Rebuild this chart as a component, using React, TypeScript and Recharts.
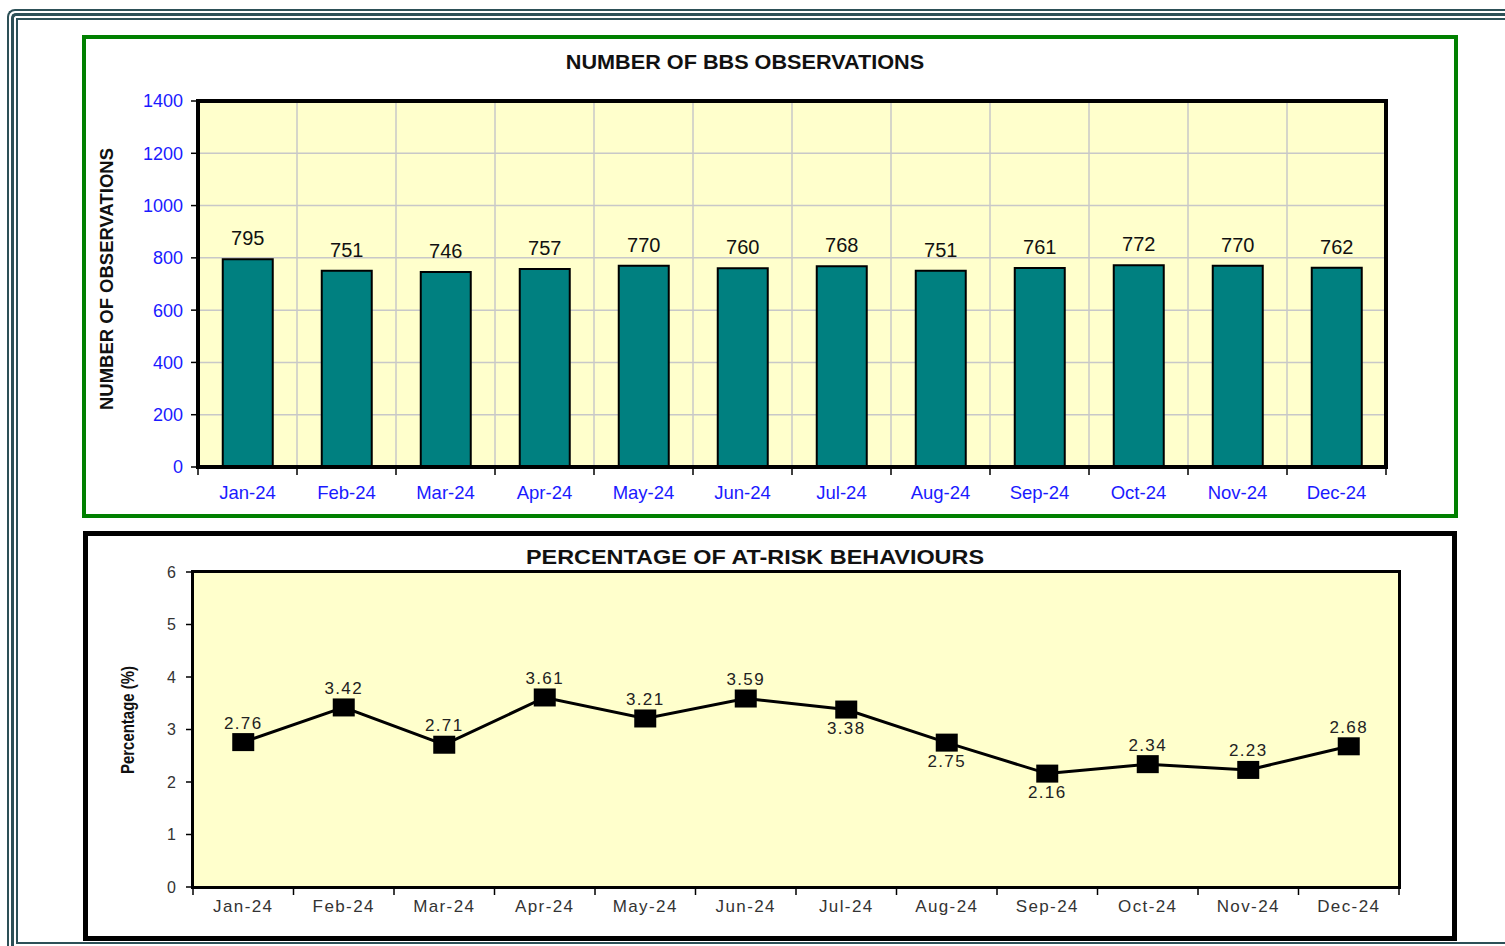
import React from "react";
import {
  BarChart,
  Bar,
  LineChart,
  Line,
  XAxis,
  YAxis,
  CartesianGrid,
  LabelList,
} from "recharts";

const months = [
  "Jan-24", "Feb-24", "Mar-24", "Apr-24", "May-24", "Jun-24",
  "Jul-24", "Aug-24", "Sep-24", "Oct-24", "Nov-24", "Dec-24",
];
const observations = [795, 751, 746, 757, 770, 760, 768, 751, 761, 772, 770, 762];
const atRiskPct = [2.76, 3.42, 2.71, 3.61, 3.21, 3.59, 3.38, 2.75, 2.16, 2.34, 2.23, 2.68];
const obsTicks = [0, 200, 400, 600, 800, 1000, 1200, 1400];
const pctTicks = [0, 1, 2, 3, 4, 5, 6];
// months whose value label sits under the marker
const labelsBelow = ["Jul-24", "Aug-24", "Sep-24"];

const FONT = "Arial, 'Liberation Sans', Helvetica, sans-serif";
const BLUE = "#1a1aff";
const PAPER = "#FFFFCC";

const obsData = months.map((m, i) => ({ month: m, value: observations[i] }));
const pctData = months.map((m, i) => ({ month: m, value: atRiskPct[i] }));

// top chart geometry (inside the green box)
const T = { w: 1368, h: 475, left: 112, top: 62, plotW: 1188, plotH: 366, yw: 60, xh: 30 };
// bottom chart geometry (inside the black box)
const B = { w: 1364, h: 400, left: 105, top: 36, plotW: 1206, plotH: 315, yw: 50, xh: 30 };

function MonthTick(props: any) {
  const { x, y, payload, index, band, color, fontSize, dy, spacing, count } = props;
  const half = band / 2;
  return (
    <g>
      <line x1={x - half} y1={y} x2={x - half} y2={y + 6} stroke="#000" strokeWidth={1.5} />
      {index === count - 1 && (
        <line x1={x + half} y1={y} x2={x + half} y2={y + 6} stroke="#000" strokeWidth={1.5} />
      )}
      <text
        x={x}
        y={y + dy}
        textAnchor="middle"
        dominantBaseline="central"
        fill={color}
        fontSize={fontSize}
        fontFamily={FONT}
        letterSpacing={spacing}
      >
        {payload.value}
      </text>
    </g>
  );
}

function ObservationsChart() {
  const band = T.plotW / months.length;
  return (
    <div style={{ position: "relative", width: T.w, height: T.h }}>
      <BarChart
        width={T.w}
        height={T.h}
        data={obsData}
        margin={{
          top: T.top,
          left: T.left - T.yw,
          right: T.w - T.left - T.plotW,
          bottom: T.h - T.top - T.plotH - T.xh,
        }}
        barCategoryGap="25%"
      >
        <CartesianGrid
          fill={PAPER}
          fillOpacity={1}
          stroke="#c8c8c8"
          strokeWidth={1.5}
          verticalCoordinatesGenerator={({ offset }: any) =>
            months.map((_, i) => offset.left + i * (offset.width / months.length))
          }
        />
        <XAxis
          dataKey="month"
          height={T.xh}
          axisLine={false}
          tickLine={false}
          tickSize={0}
          interval={0}
          tick={(p: any) => (
            <MonthTick {...p} band={band} color={BLUE} fontSize={18.5} dy={23} spacing={0} count={months.length} />
          )}
        />
        <YAxis
          width={T.yw}
          domain={[0, 1400]}
          ticks={obsTicks}
          interval={0}
          axisLine={false}
          tickSize={7}
          tickMargin={8}
          tickLine={{ stroke: "#000", strokeWidth: 1.5 }}
          tick={{ fill: BLUE, fontSize: 18, fontFamily: FONT }}
        />
        <Bar dataKey="value" fill="#008080" stroke="#000" strokeWidth={2} isAnimationActive={false}>
          <LabelList
            dataKey="value"
            position="top"
            offset={14}
            fill="#111"
            fontSize={20}
            fontFamily={FONT}
          />
        </Bar>
      </BarChart>
      <div
        style={{
          position: "absolute",
          left: T.left - 2,
          top: T.top - 2,
          width: T.plotW + 4,
          height: T.plotH + 4,
          border: "4px solid #000",
          boxSizing: "border-box",
          pointerEvents: "none",
        }}
      />
    </div>
  );
}

function PctLabel(props: any) {
  const { x, y, value, index } = props;
  const below = labelsBelow.includes(months[index]);
  return (
    <text
      x={x}
      y={below ? y + 19 : y - 19}
      textAnchor="middle"
      dominantBaseline="central"
      fill="#222"
      fontSize={17}
      fontFamily={FONT}
      letterSpacing={1.3}
    >
      {value.toFixed(2)}
    </text>
  );
}

function AtRiskChart() {
  const band = B.plotW / months.length;
  return (
    <div style={{ position: "relative", width: B.w, height: B.h }}>
      <LineChart
        width={B.w}
        height={B.h}
        data={pctData}
        margin={{
          top: B.top,
          left: B.left - B.yw,
          right: B.w - B.left - B.plotW,
          bottom: B.h - B.top - B.plotH - B.xh,
        }}
      >
        <CartesianGrid fill={PAPER} fillOpacity={1} horizontal={false} vertical={false} />
        <XAxis
          dataKey="month"
          height={B.xh}
          axisLine={false}
          tickLine={false}
          tickSize={0}
          interval={0}
          padding={{ left: band / 2, right: band / 2 }}
          tick={(p: any) => (
            <MonthTick {...p} band={band} color="#333" fontSize={17} dy={17} spacing={1.4} count={months.length} />
          )}
        />
        <YAxis
          width={B.yw}
          domain={[0, 6]}
          ticks={pctTicks}
          interval={0}
          axisLine={false}
          tickSize={7}
          tickMargin={10}
          tickLine={{ stroke: "#000", strokeWidth: 1.5 }}
          tick={{ fill: "#333", fontSize: 16, fontFamily: FONT }}
        />
        <Line
          type="linear"
          dataKey="value"
          stroke="#000"
          strokeWidth={3}
          isAnimationActive={false}
          dot={(p: any) => (
            <rect key={p.index} x={p.cx - 11} y={p.cy - 9} width={22} height={18} fill="#000" />
          )}
        >
          <LabelList dataKey="value" content={PctLabel} />
        </Line>
      </LineChart>
      <div
        style={{
          position: "absolute",
          left: B.left - 2,
          top: B.top - 2,
          width: B.plotW + 4,
          height: B.plotH + 4,
          border: "3px solid #000",
          boxSizing: "border-box",
          pointerEvents: "none",
        }}
      />
    </div>
  );
}

const frameColor = "#2d5057";

export default function App() {
  return (
    <div
      style={{
        position: "absolute",
        left: 0,
        top: 0,
        width: 1505,
        height: 946,
        background: "#fff",
        overflow: "hidden",
        fontFamily: FONT,
      }}
    >
      {/* page frame */}
      <div style={{ position: "absolute", left: 7, top: 9, width: 1600, height: 1000, borderLeft: `2px solid ${frameColor}`, borderTop: `2px solid ${frameColor}`, borderTopLeftRadius: 8 }} />
      <div style={{ position: "absolute", left: 11, top: 13, width: 1600, height: 1000, borderLeft: `3px solid ${frameColor}`, borderTop: `3px solid ${frameColor}`, borderTopLeftRadius: 5 }} />
      <div style={{ position: "absolute", left: 16, top: 18, width: 1600, height: 926, borderLeft: `2px solid ${frameColor}`, borderTop: `2px solid ${frameColor}`, borderBottom: `2px solid ${frameColor}`, boxSizing: "border-box" }} />

      {/* top chart */}
      <div
        style={{
          position: "absolute",
          left: 82,
          top: 35,
          width: 1376,
          height: 483,
          border: "4px solid #008000",
          boxSizing: "border-box",
          background: "#fff",
        }}
      >
        <ObservationsChart />
        <div style={{ position: "absolute", left: 745 - 86 - 300, top: 12, width: 600, textAlign: "center", fontWeight: "bold", fontSize: 19.5, color: "#111", transform: "scaleX(1.11)" }}>
          NUMBER OF BBS OBSERVATIONS
        </div>
        <div style={{ position: "absolute", left: 107 - 86 - 200, top: 279 - 39 - 12, width: 400, height: 24, lineHeight: "24px", textAlign: "center", fontWeight: "bold", fontSize: 18.5, color: "#111", transform: "rotate(-90deg)" }}>
          NUMBER OF OBSERVATIONS
        </div>
      </div>

      {/* bottom chart */}
      <div
        style={{
          position: "absolute",
          left: 83,
          top: 531,
          width: 1374,
          height: 410,
          border: "5px solid #000",
          boxSizing: "border-box",
          background: "#fff",
        }}
      >
        <AtRiskChart />
        <div style={{ position: "absolute", left: 755 - 88 - 300, top: 10, width: 600, textAlign: "center", fontWeight: "bold", fontSize: 19.5, color: "#111", transform: "scaleX(1.2)" }}>
          PERCENTAGE OF AT-RISK BEHAVIOURS
        </div>
        <div style={{ position: "absolute", left: 128 - 88 - 150, top: 720 - 536 - 12, width: 300, height: 24, lineHeight: "24px", textAlign: "center", fontWeight: "bold", fontSize: 18, color: "#111", transform: "rotate(-90deg) scaleX(0.83)" }}>
          Percentage (%)
        </div>
      </div>
    </div>
  );
}
